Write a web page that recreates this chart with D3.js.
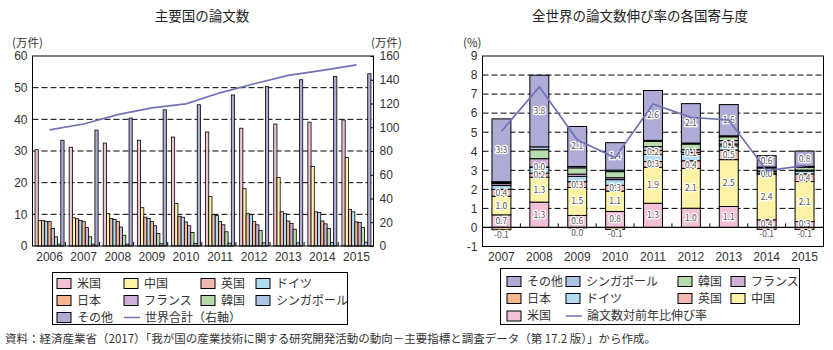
<!DOCTYPE html>
<html>
<head>
<meta charset="utf-8">
<script src="https://cdn.jsdelivr.net/npm/d3@7"></script>
<style>
  body { margin: 0; background: #fff; }
  svg { display: block; font-family: "Noto Sans CJK JP", "Noto Sans", sans-serif; }
</style>
</head>
<body>
<svg id="chart" width="833" height="350"></svg>
<script>
// ---- data ----
var years = ["2006", "2007", "2008", "2009", "2010", "2011", "2012", "2013", "2014", "2015"];
var countries = ["米国", "中国", "英国", "ドイツ", "日本", "フランス", "韓国", "シンガポール", "その他"];
var countryColors = ["#f3c1d7", "#fdf3a6", "#f1b8b1", "#b1dcf4", "#f4b88c", "#d1b0d8", "#b7dbac", "#aec4e7", "#acacd7"];

// 論文数 (万件)
var usPapers = [30.4, 31.2, 32.5, 33.4, 34.4, 36.0, 37.2, 38.5, 39.1, 39.8];
var cnPapers = [8.0, 8.9, 10.2, 12.1, 13.4, 15.6, 18.1, 21.6, 25.1, 27.9];
var ukPapers = [8.0, 8.6, 8.7, 9.1, 9.4, 9.9, 10.2, 10.8, 10.8, 11.5];
var dePapers = [7.8, 8.1, 8.4, 8.7, 9.1, 9.6, 9.9, 10.2, 10.6, 10.8];
var jpPapers = [7.7, 7.7, 7.7, 7.7, 7.6, 7.7, 7.7, 7.9, 7.9, 7.6];
var frPapers = [5.5, 5.8, 6.0, 6.4, 6.4, 6.7, 6.7, 7.1, 7.0, 7.4];
var krPapers = [2.9, 2.9, 3.4, 4.0, 4.3, 4.5, 4.9, 5.3, 5.5, 5.8];
var sgPapers = [0.6, 0.6, 0.6, 0.7, 0.8, 0.9, 1.0, 1.0, 1.1, 1.2];
var otherPapers = [33.4, 36.6, 40.4, 43.0, 44.6, 47.7, 50.3, 52.5, 53.5, 54.4];
var worldTotal = [97.8, 102.7, 110.6, 116.3, 119.7, 129.0, 136.6, 143.7, 147.9, 152.5];

// 寄与度 (%)
var contribYears = ["2007", "2008", "2009", "2010", "2011", "2012", "2013", "2014", "2015"];
var usContrib = [0.66, 1.33, 0.63, 0.84, 1.27, 1.01, 1.1, 0.4, 0.31];
var cnContrib = [0.98, 1.31, 1.47, 1.07, 1.89, 2.09, 2.46, 2.4, 2.1];
var ukContrib = [0.36, 0.21, 0.3, 0.3, 0.3, 0.4, 0.5, 0.02, 0.4];
var deContrib = [0.2, 0.3, 0.28, 0.3, 0.38, 0.34, 0.22, 0.1, 0.15];
var jpContrib = [-0.12, 0.03, -0.02, -0.1, 0.2, 0.1, 0.1, -0.1, -0.1];
var frContrib = [0.1, 0.43, 0.12, 0.1, 0.2, 0.14, 0.18, 0.05, 0.05];
var krContrib = [0.05, 0.47, 0.33, 0.32, 0.28, 0.3, 0.2, 0.15, 0.15];
var sgContrib = [0.05, 0.15, 0.07, 0.08, 0.05, 0.05, 0.05, 0.05, 0.05];
var otherContrib = [3.3, 3.76, 2.1, 1.44, 2.62, 2.07, 1.64, 0.6, 0.8];
var growthRate = [5.05, 7.38, 4.6, 3.66, 6.48, 5.78, 5.64, 2.98, 3.25];
var labelledKeys = ["米国", "中国", "英国", "日本", "その他"];

var paperSeries = [usPapers, cnPapers, ukPapers, dePapers, jpPapers, frPapers, krPapers, sgPapers, otherPapers];
var contribSeries = [usContrib, cnContrib, ukContrib, deContrib, jpContrib, frContrib, krContrib, sgContrib, otherContrib];

var lineColor = "#7171b6";
var textColor = "#333";
var svg = d3.select("#chart");
var colorOf = d3.scaleOrdinal().domain(countries).range(countryColors);

// ================= left chart =================
var xL = d3.scaleBand().domain(years).range([32.5, 373.5]).paddingInner(0.15).paddingOuter(0.075);
var xLi = d3.scaleBand().domain(countries).range([0, xL.bandwidth()]);
var yL = d3.scaleLinear().domain([0, 60]).range([246, 56]);
var yL2 = d3.scaleLinear().domain([0, 160]).range([246, 56]);

var left = svg.append("g");

left.append("text")
    .attr("x", 202).attr("y", 21)
    .attr("text-anchor", "middle")
    .attr("font-size", 13.5)
    .attr("fill", "#222")
    .text("主要国の論文数");

// gridlines
left.selectAll(".gridL")
    .data([10, 20, 30, 40, 50])
    .enter().append("line")
    .attr("x1", 32.5).attr("x2", 373.5)
    .attr("y1", function(d) { return yL(d); })
    .attr("y2", function(d) { return yL(d); })
    .attr("stroke", "#000")
    .attr("stroke-dasharray", "6,3");

var barData = [];
years.forEach(function(yr, i) {
    countries.forEach(function(c, j) {
        barData.push({ year: yr, country: c, value: paperSeries[j][i] });
    });
});

left.selectAll(".barL")
    .data(barData)
    .enter().append("rect")
    .attr("x", function(d) { return xL(d.year) + xLi(d.country); })
    .attr("y", function(d) { return yL(d.value); })
    .attr("width", xLi.bandwidth())
    .attr("height", function(d) { return yL(0) - yL(d.value); })
    .attr("fill", function(d) { return colorOf(d.country); })
    .attr("stroke", "#000")
    .attr("stroke-width", 0.8);

var totalLine = d3.line()
    .x(function(d, i) { return xL(years[i]) + xL.bandwidth() / 2; })
    .y(function(d) { return yL2(d); });

left.append("path")
    .datum(worldTotal)
    .attr("d", totalLine)
    .attr("fill", "none")
    .attr("stroke", lineColor)
    .attr("stroke-width", 1.7);

// frame
left.append("rect")
    .attr("x", 32.5).attr("y", 56)
    .attr("width", 341).attr("height", 190)
    .attr("fill", "none")
    .attr("stroke", "#000");

// x ticks at group boundaries
left.selectAll(".xtickL")
    .data(years.slice(1))
    .enter().append("line")
    .attr("x1", function(d) { return xL(d) - xL.step() * 0.075 - 1.2; })
    .attr("x2", function(d) { return xL(d) - xL.step() * 0.075 - 1.2; })
    .attr("y1", 246).attr("y2", 242)
    .attr("stroke", "#000");

left.append("g")
    .attr("transform", "translate(0,246)")
    .call(d3.axisBottom(xL).tickSize(0).tickPadding(6))
    .call(function(g) { g.select(".domain").remove(); })
    .selectAll("text").attr("font-size", 12).attr("fill", textColor).attr("font-family", null);

left.append("g")
    .attr("transform", "translate(32.5,0)")
    .call(d3.axisLeft(yL).tickValues(d3.range(0, 61, 10)).tickSize(0).tickPadding(5))
    .call(function(g) { g.select(".domain").remove(); })
    .selectAll("text").attr("font-size", 12).attr("fill", textColor).attr("font-family", null);

left.append("g")
    .attr("transform", "translate(373.5,0)")
    .call(d3.axisRight(yL2).tickValues(d3.range(0, 161, 20)).tickSize(-3).tickPadding(6))
    .call(function(g) { g.select(".domain").remove(); })
    .call(function(g) { g.selectAll("line").attr("stroke", "#000"); })
    .selectAll("text").attr("font-size", 12).attr("fill", textColor).attr("font-family", null);

left.append("text").attr("x", 12).attr("y", 47).attr("font-size", 11.5).attr("fill", textColor).text("(万件)");
left.append("text").attr("x", 371).attr("y", 47).attr("font-size", 11.5).attr("fill", textColor).text("(万件)");

// ================= right chart =================
var xC = d3.scaleBand().domain(contribYears).range([482.5, 823.5]).paddingInner(0.5).paddingOuter(0.25);
var yC = d3.scaleLinear().domain([-1, 9]).range([246.5, 56]);

var right = svg.append("g");

right.append("text")
    .attr("x", 640).attr("y", 21)
    .attr("text-anchor", "middle")
    .attr("font-size", 13.5)
    .attr("fill", "#222")
    .text("全世界の論文数伸び率の各国寄与度");

right.selectAll(".gridC")
    .data([1, 2, 3, 4, 5, 6, 7, 8])
    .enter().append("line")
    .attr("x1", 482.5).attr("x2", 823.5)
    .attr("y1", function(d) { return yC(d); })
    .attr("y2", function(d) { return yC(d); })
    .attr("stroke", "#000")
    .attr("stroke-dasharray", "6,3");

var rows = contribYears.map(function(yr, i) {
    var r = { year: yr };
    countries.forEach(function(c, j) { r[c] = contribSeries[j][i]; });
    return r;
});

var stacked = d3.stack().keys(countries).offset(d3.stackOffsetDiverging)(rows);

var layers = right.selectAll(".layer")
    .data(stacked)
    .enter().append("g")
    .attr("fill", function(d) { return colorOf(d.key); });

layers.selectAll("rect")
    .data(function(d) { return d; })
    .enter().append("rect")
    .attr("x", function(d) { return xC(d.data.year); })
    .attr("y", function(d) { return yC(Math.max(d[0], d[1])); })
    .attr("width", xC.bandwidth())
    .attr("height", function(d) { return Math.abs(yC(d[0]) - yC(d[1])); })
    .attr("stroke", "#000")
    .attr("stroke-width", 1);

var fmt = function(v) {
    var r = Math.round(v * 10) / 10 + 0;
    return r.toFixed(1);
};

var labelData = [];
stacked.forEach(function(layer) {
    if (labelledKeys.indexOf(layer.key) < 0) return;
    layer.forEach(function(d) {
        var v = d.data[layer.key];
        var lo = Math.min(d[0], d[1]), hi = Math.max(d[0], d[1]);
        var y = v < 0 ? yC(lo) + 5 : yC((lo + hi) / 2);
        labelData.push({ x: xC(d.data.year) + xC.bandwidth() / 2, y: y, text: fmt(v) });
    });
});

right.selectAll(".segLabel")
    .data(labelData)
    .enter().append("text")
    .attr("x", function(d) { return d.x; })
    .attr("y", function(d) { return d.y; })
    .attr("dy", "0.35em")
    .attr("text-anchor", "middle")
    .attr("font-size", 8.5)
    .attr("fill", "#555")
    .attr("stroke", "#fff")
    .attr("stroke-width", 2.5)
    .attr("paint-order", "stroke")
    .text(function(d) { return d.text; });

var rateLine = d3.line()
    .x(function(d, i) { return xC(contribYears[i]) + xC.bandwidth() / 2; })
    .y(function(d) { return yC(d); });

right.append("path")
    .datum(growthRate)
    .attr("d", rateLine)
    .attr("fill", "none")
    .attr("stroke", lineColor)
    .attr("stroke-width", 1.7);

// zero line with ticks
right.append("line")
    .attr("x1", 482.5).attr("x2", 823.5)
    .attr("y1", yC(0)).attr("y2", yC(0))
    .attr("stroke", "#000").attr("stroke-width", 1.2);

right.selectAll(".xtickC")
    .data(contribYears.slice(1))
    .enter().append("line")
    .attr("x1", function(d) { return xC(d) - xC.step() * 0.25; })
    .attr("x2", function(d) { return xC(d) - xC.step() * 0.25; })
    .attr("y1", yC(0)).attr("y2", yC(0) - 4)
    .attr("stroke", "#000");

right.append("rect")
    .attr("x", 482.5).attr("y", 56)
    .attr("width", 341).attr("height", 190.5)
    .attr("fill", "none")
    .attr("stroke", "#000");

right.append("g")
    .attr("transform", "translate(0,246.5)")
    .call(d3.axisBottom(xC).tickSize(0).tickPadding(6))
    .call(function(g) { g.select(".domain").remove(); })
    .selectAll("text").attr("font-size", 12).attr("fill", textColor).attr("font-family", null);

right.append("g")
    .attr("transform", "translate(482.5,0)")
    .call(d3.axisLeft(yC).tickValues(d3.range(-1, 10, 1)).tickSize(0).tickPadding(5)
        .tickFormat(function(d) { return String(d); }))
    .call(function(g) { g.select(".domain").remove(); })
    .selectAll("text").attr("font-size", 12).attr("fill", textColor).attr("font-family", null);

right.append("text").attr("x", 463).attr("y", 47).attr("font-size", 11.5).attr("fill", textColor).text("(%)");

// ================= legends =================
function drawLegend(g, box, cols, rowsY, items, lineLabel, lineCol) {
    g.append("rect")
        .attr("x", box[0]).attr("y", box[1])
        .attr("width", box[2]).attr("height", box[3])
        .attr("fill", "#fff").attr("stroke", "#000");
    items.forEach(function(name, k) {
        var cx = cols[k % 4], cy = rowsY[Math.floor(k / 4)];
        g.append("rect")
            .attr("x", cx).attr("y", cy - 5)
            .attr("width", 14).attr("height", 10)
            .attr("fill", colorOf(name)).attr("stroke", "#000");
        g.append("text")
            .attr("x", cx + 20).attr("y", cy)
            .attr("dy", "0.36em")
            .attr("font-size", 12).attr("fill", textColor)
            .text(name);
    });
    var k = items.length;
    var lx = cols[lineCol], ly = rowsY[Math.floor(k / 4)];
    g.append("line")
        .attr("x1", lx).attr("x2", lx + 16)
        .attr("y1", ly).attr("y2", ly)
        .attr("stroke", lineColor).attr("stroke-width", 1.5);
    g.append("text")
        .attr("x", lx + 21).attr("y", ly)
        .attr("dy", "0.36em")
        .attr("font-size", 12).attr("fill", textColor)
        .text(lineLabel);
}

drawLegend(svg.append("g"), [52.5, 272.5, 295, 52], [57, 124, 201, 256], [283.5, 300.5, 317.5],
    countries, "世界合計（右軸）", 1);

drawLegend(svg.append("g"), [500.5, 268.5, 299, 56], [507, 566, 678, 731], [281.5, 298.5, 316],
    countries.slice().reverse(), "論文数対前年比伸び率", 1);

svg.append("text")
    .attr("x", 5).attr("y", 343)
    .attr("font-size", 11.5).attr("fill", textColor)
    .text("資料：経済産業省（2017）「我が国の産業技術に関する研究開発活動の動向－主要指標と調査データ（第 17.2 版）」から作成。");
</script>
</body>
</html>
